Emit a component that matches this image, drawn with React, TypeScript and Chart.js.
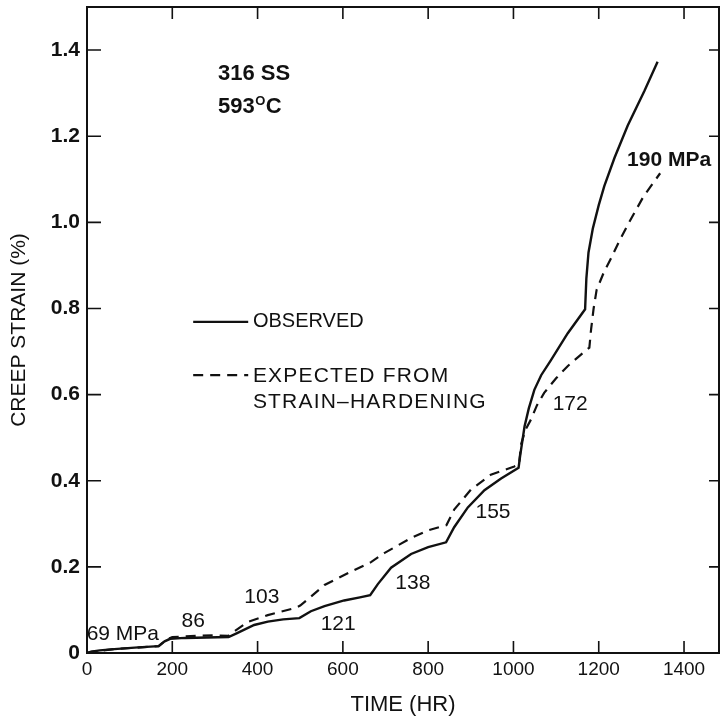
import React, { useEffect, useRef } from "react";
import { Chart, registerables } from "chart.js";

Chart.register(...registerables);

// ---- Data (time in hr, creep strain in %) ----
const observedTime = [0, 10, 30, 64, 120, 168, 182, 195, 230, 332, 352, 392, 424, 460, 498, 525, 557, 603, 640, 664, 682, 713, 760, 800, 842, 861, 893, 932, 971, 1012, 1016, 1026, 1036, 1049, 1065, 1088, 1127, 1168, 1171, 1176, 1186, 1200, 1213, 1237, 1268, 1307, 1338];
const observedStrain = [0, 0.003, 0.006, 0.009, 0.013, 0.016, 0.027, 0.033, 0.035, 0.037, 0.046, 0.065, 0.073, 0.078, 0.081, 0.097, 0.109, 0.122, 0.129, 0.134, 0.160, 0.198, 0.230, 0.246, 0.257, 0.292, 0.338, 0.378, 0.405, 0.430, 0.460, 0.526, 0.568, 0.611, 0.645, 0.680, 0.742, 0.798, 0.870, 0.930, 0.985, 1.040, 1.084, 1.150, 1.225, 1.305, 1.373];

const expectedTime = [0, 10, 64, 168, 185, 200, 260, 300, 332, 345, 377, 424, 486, 500, 525, 557, 619, 666, 697, 760, 800, 843, 861, 900, 947, 1002, 1013, 1018, 1028, 1041, 1055, 1072, 1100, 1127, 1155, 1178, 1182, 1188, 1195, 1212, 1228, 1250, 1270, 1305, 1344];
const expectedStrain = [0, 0.003, 0.009, 0.016, 0.030, 0.037, 0.040, 0.041, 0.040, 0.050, 0.072, 0.088, 0.104, 0.110, 0.131, 0.158, 0.189, 0.211, 0.232, 0.267, 0.285, 0.297, 0.333, 0.379, 0.414, 0.433, 0.438, 0.485, 0.518, 0.542, 0.575, 0.604, 0.638, 0.666, 0.690, 0.709, 0.751, 0.800, 0.843, 0.884, 0.915, 0.960, 0.998, 1.060, 1.114];

const xTicks = [0, 200, 400, 600, 800, 1000, 1200, 1400];
const yTicks = [0, 0.2, 0.4, 0.6, 0.8, 1.0, 1.2, 1.4];
const xMax = 1482;
const yMax = 1.5;

// stress-level labels placed in data coordinates
const stressLabels = ["69 MPa", "86", "103", "121", "138", "155", "172", "190 MPa"];
const stressLabelTime = [84, 249, 410, 589, 764, 952, 1133, 1365];
const stressLabelStrain = [0.044, 0.074, 0.130, 0.067, 0.163, 0.327, 0.578, 1.145];

const materialText = "316 SS";
const tempText = "593";
const legendObserved = "OBSERVED";
const legendExpected = ["EXPECTED FROM", "STRAIN–HARDENING"];

const FONT = "'Liberation Sans', Arial, Helvetica, sans-serif";

const decorPlugin = {
  id: "decor",
  afterDraw(chart: any) {
    const { ctx, chartArea: a, scales } = chart;
    const xs = scales.x;
    const ys = scales.y;
    const X = (v: number) => xs.getPixelForValue(v);
    const Y = (v: number) => ys.getPixelForValue(v);
    ctx.save();
    ctx.strokeStyle = "#111";
    ctx.fillStyle = "#111";
    // top & right frame
    ctx.lineWidth = 2;
    ctx.beginPath();
    ctx.moveTo(a.left, a.top);
    ctx.lineTo(a.right, a.top);
    ctx.lineTo(a.right, a.bottom);
    ctx.stroke();
    // inward ticks
    ctx.lineWidth = 1.6;
    ctx.beginPath();
    xTicks.forEach((v) => {
      if (v === 0) return;
      const px = X(v);
      ctx.moveTo(px, a.bottom);
      ctx.lineTo(px, a.bottom - 12);
      ctx.moveTo(px, a.top);
      ctx.lineTo(px, a.top + 12);
    });
    yTicks.forEach((v) => {
      if (v === 0) return;
      const py = Y(v);
      ctx.moveTo(a.left, py);
      ctx.lineTo(a.left + 14, py);
      ctx.moveTo(a.right, py);
      ctx.lineTo(a.right - 10, py);
    });
    ctx.stroke();

    // stress labels
    ctx.textBaseline = "middle";
    ctx.textAlign = "center";
    stressLabels.forEach((s, i) => {
      ctx.font = (i === stressLabels.length - 1 ? "bold 21px " : "21px ") + FONT;
      ctx.fillText(s, X(stressLabelTime[i]), Y(stressLabelStrain[i]));
    });

    // material / temperature
    ctx.textAlign = "left";
    const tx = X(307);
    ctx.font = "bold 22px " + FONT;
    ctx.fillText(materialText, tx, Y(1.345));
    const ty = Y(1.267);
    ctx.fillText(tempText, tx, ty);
    const w = ctx.measureText(tempText).width;
    ctx.font = "bold 13px " + FONT;
    ctx.fillText("O", tx + w + 0.5, ty - 6);
    const wo = ctx.measureText("O").width;
    ctx.font = "bold 22px " + FONT;
    ctx.fillText("C", tx + w + wo + 1, ty);

    // legend
    const lx0 = X(249);
    const lx1 = X(378);
    ctx.lineWidth = 2.3;
    ctx.beginPath();
    ctx.moveTo(lx0, Y(0.769));
    ctx.lineTo(lx1, Y(0.769));
    ctx.stroke();
    ctx.setLineDash([10, 7]);
    ctx.beginPath();
    ctx.moveTo(lx0, Y(0.645));
    ctx.lineTo(lx1, Y(0.645));
    ctx.stroke();
    ctx.setLineDash([]);
    ctx.font = "20px " + FONT;
    const textX = X(389);
    ctx.fillText(legendObserved, textX, Y(0.769));
    (ctx as any).letterSpacing = "1.2px";
    ctx.font = "21px " + FONT;
    ctx.fillText(legendExpected[0], textX, Y(0.643));
    ctx.fillText(legendExpected[1], textX, Y(0.583));
    (ctx as any).letterSpacing = "0px";
    ctx.restore();
  },
};

export default function App() {
  const ref = useRef<HTMLCanvasElement | null>(null);
  useEffect(() => {
    document.body.style.margin = "0";
    document.body.style.background = "#fff";
    Chart.defaults.font.family = FONT;
    Chart.defaults.color = "#111";
    const chart = new Chart(ref.current as HTMLCanvasElement, {
      type: "line",
      data: {
        datasets: [
          {
            label: "OBSERVED",
            data: observedTime.map((t, i) => ({ x: t, y: observedStrain[i] })),
            borderColor: "#111",
            borderWidth: 2.4,
            pointRadius: 0,
            tension: 0,
            fill: false,
          },
          {
            label: "EXPECTED FROM STRAIN-HARDENING",
            data: expectedTime.map((t, i) => ({ x: t, y: expectedStrain[i] })),
            borderColor: "#111",
            borderWidth: 2.2,
            borderDash: [10, 7],
            pointRadius: 0,
            tension: 0,
            fill: false,
          },
        ],
      },
      options: {
        animation: false,
        responsive: false,
        layout: { padding: { top: 7, right: 4, left: 0, bottom: 0 } },
        plugins: { legend: { display: false }, tooltip: { enabled: false } },
        scales: {
          x: {
            type: "linear",
            min: 0,
            max: xMax,
            afterFit: (s: any) => {
              s.height = 70;
              s.paddingLeft = 0;
              s.paddingRight = 0;
            },
            afterBuildTicks: (s: any) => {
              s.ticks = xTicks.map((v) => ({ value: v }));
            },
            grid: { display: true, drawOnChartArea: false, drawTicks: false },
            border: { display: true, color: "#111", width: 2 },
            ticks: {
              padding: 5,
              color: "#111",
              font: { size: 19 },
              maxRotation: 0,
              callback: (v: any) => String(v),
            },
            title: {
              display: true,
              text: "TIME (HR)",
              color: "#111",
              font: { size: 22 },
              padding: { top: 0, bottom: 5 },
            },
          },
          y: {
            type: "linear",
            min: 0,
            max: yMax,
            afterFit: (s: any) => {
              s.width = 87;
              s.paddingTop = 0;
              s.paddingBottom = 0;
            },
            afterBuildTicks: (s: any) => {
              s.ticks = yTicks.map((v) => ({ value: v }));
            },
            grid: { display: true, drawOnChartArea: false, drawTicks: false },
            border: { display: true, color: "#111", width: 2 },
            ticks: {
              padding: 7,
              color: "#111",
              font: { size: 21, weight: "bold" },
              callback: (v: any) => (v === 0 ? "0" : Number(v).toFixed(1)),
            },
            title: {
              display: true,
              text: "CREEP STRAIN (%)",
              color: "#111",
              font: { size: 21 },
              padding: { top: 7, bottom: 0 },
            },
          },
        },
      },
      plugins: [decorPlugin],
    } as any);
    return () => chart.destroy();
  }, []);
  return (
    <div style={{ width: 723, height: 723, background: "#fff" }}>
      <canvas ref={ref} width={723} height={723} style={{ display: "block" }} />
    </div>
  );
}
